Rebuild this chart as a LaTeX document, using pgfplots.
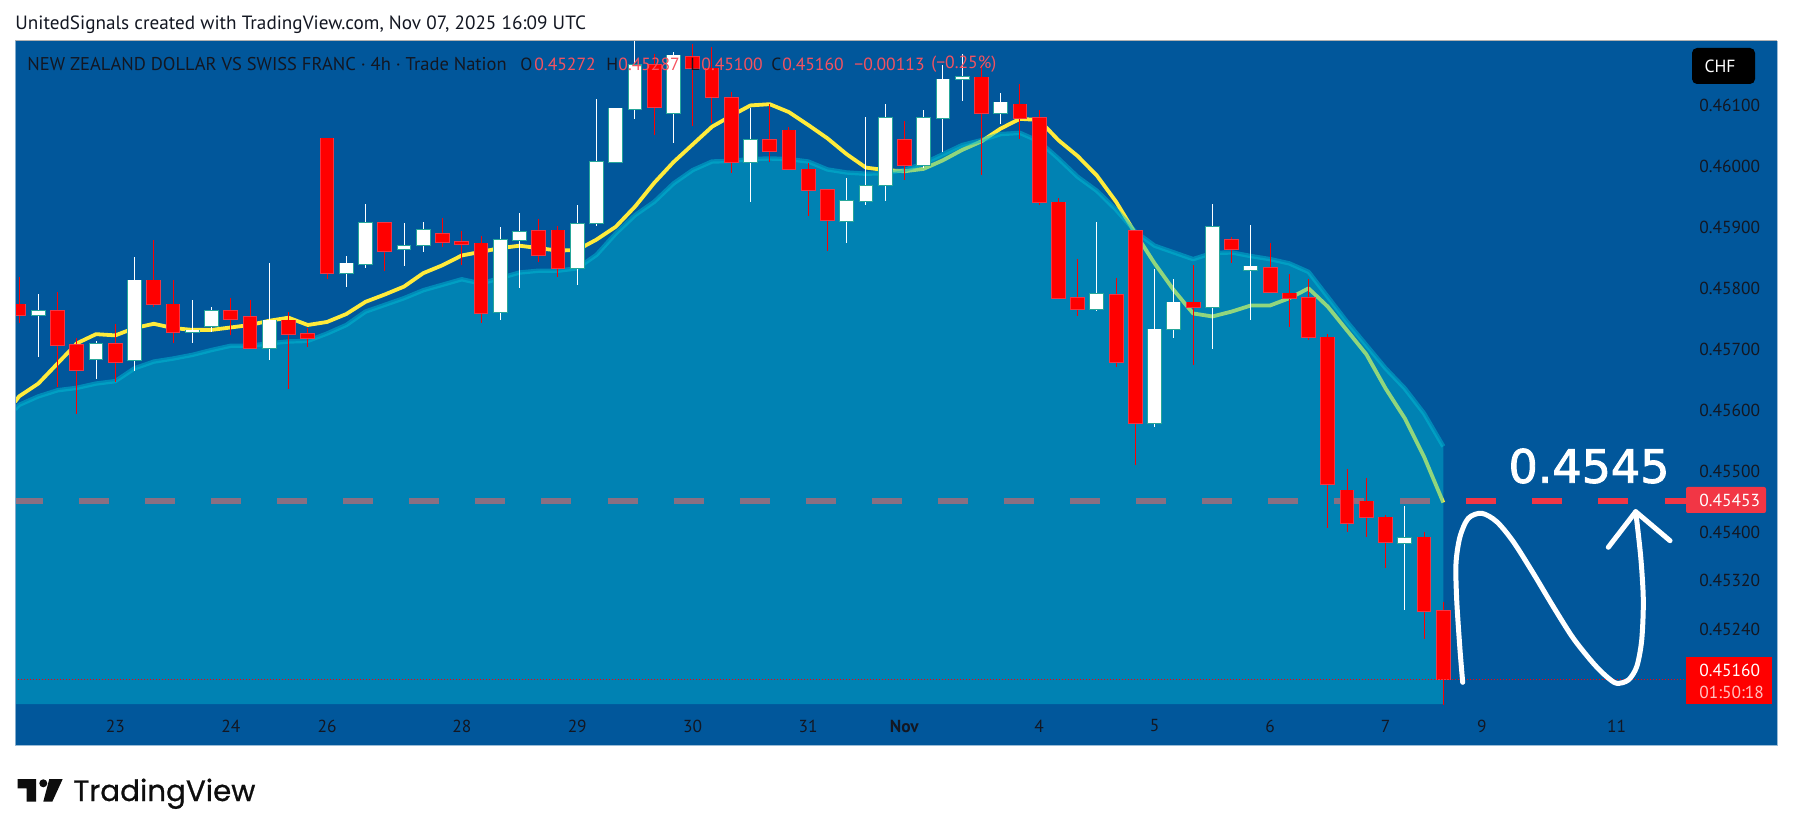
\documentclass[border=0pt]{standalone}
\usepackage{pgfplots}
\pgfplotsset{compat=1.18}
\usepackage{pgfplotstable}
\usepackage{fontspec}
\setmainfont{PT Sans}
\newfontfamily\tvfont{Poppins}[FakeBold=0.7]
\newfontfamily\bigfont{DejaVu Sans}[FakeBold=2]
\definecolor{bgb}{HTML}{01579B}
\definecolor{cloud}{HTML}{00BCD4}
\definecolor{maY}{HTML}{FFEB3B}
\definecolor{tvred}{HTML}{F23645}
\definecolor{ink}{HTML}{131722}
\definecolor{upedge}{HTML}{26A69A}
\definecolor{legred}{HTML}{F7525F}
\pgfplotstableread{
x hi lo top bot
1 0.45792 0.45689 0.45764 0.45758
4 0.45715 0.45652 0.45710 0.45686
6 0.45852 0.45666 0.45814 0.45683
9 0.45782 0.45712 0.45732 0.45730
10 0.45770 0.45730 0.45764 0.45739
13 0.45842 0.45683 0.45749 0.45703
17 0.45854 0.45804 0.45842 0.45826
18 0.45940 0.45835 0.45909 0.45841
20 0.45909 0.45838 0.45871 0.45866
21 0.45910 0.45860 0.45897 0.45872
25 0.45901 0.45750 0.45881 0.45762
26 0.45924 0.45801 0.45894 0.45881
29 0.45937 0.45807 0.45907 0.45834
30 0.46111 0.45903 0.46009 0.45909
31 0.46096 0.46009 0.46096 0.46009
32 0.46206 0.46079 0.46168 0.46095
34 0.46188 0.46040 0.46183 0.46088
38 0.46096 0.45942 0.46045 0.46009
43 0.45982 0.45876 0.45945 0.45911
44 0.46082 0.45937 0.45969 0.45944
45 0.46103 0.45945 0.46081 0.45970
47 0.46093 0.45999 0.46081 0.46004
48 0.46167 0.46025 0.46144 0.46081
49 0.46186 0.46109 0.46148 0.46144
51 0.46121 0.46070 0.46106 0.46088
56 0.45910 0.45764 0.45792 0.45768
59 0.45833 0.45574 0.45734 0.45580
60 0.45816 0.45720 0.45778 0.45734
62 0.45940 0.45701 0.45902 0.45770
64 0.45905 0.45749 0.45837 0.45831
72 0.45444 0.45273 0.45392 0.45384
}\upcandles
\pgfplotstableread{
x hi lo top bot
0 0.45819 0.45744 0.45775 0.45758
2 0.45795 0.45639 0.45764 0.45709
3 0.45720 0.45595 0.45709 0.45668
5 0.45743 0.45648 0.45710 0.45681
7 0.45880 0.45770 0.45814 0.45775
8 0.45815 0.45712 0.45775 0.45729
11 0.45786 0.45724 0.45764 0.45751
12 0.45782 0.45702 0.45754 0.45704
14 0.45763 0.45636 0.45749 0.45727
15 0.45736 0.45705 0.45727 0.45719
16 0.46047 0.45817 0.46047 0.45826
19 0.45909 0.45830 0.45909 0.45863
22 0.45917 0.45869 0.45891 0.45877
23 0.45895 0.45839 0.45877 0.45873
24 0.45887 0.45744 0.45875 0.45760
27 0.45914 0.45845 0.45895 0.45855
28 0.45904 0.45820 0.45896 0.45834
33 0.46186 0.46052 0.46168 0.46099
35 0.46202 0.46067 0.46181 0.46163
36 0.46196 0.46072 0.46162 0.46114
37 0.46123 0.45990 0.46113 0.46009
39 0.46103 0.46009 0.46045 0.46026
40 0.46066 0.45997 0.46060 0.45997
41 0.46006 0.45920 0.45996 0.45963
42 0.45963 0.45863 0.45963 0.45913
46 0.46075 0.45979 0.46045 0.46003
50 0.46167 0.45987 0.46147 0.46088
52 0.46136 0.46046 0.46103 0.46081
53 0.46093 0.45937 0.46081 0.45942
54 0.45950 0.45784 0.45942 0.45786
55 0.45849 0.45755 0.45786 0.45768
57 0.45818 0.45672 0.45791 0.45680
58 0.45895 0.45512 0.45895 0.45580
61 0.45839 0.45675 0.45778 0.45770
63 0.45885 0.45843 0.45881 0.45865
65 0.45875 0.45795 0.45835 0.45795
66 0.45825 0.45738 0.45793 0.45786
67 0.45816 0.45717 0.45786 0.45722
68 0.45726 0.45409 0.45721 0.45480
69 0.45505 0.45401 0.45470 0.45416
70 0.45491 0.45394 0.45452 0.45426
71 0.45430 0.45342 0.45426 0.45385
73 0.45402 0.45226 0.45393 0.45272
74 0.45287 0.45100 0.45272 0.45160
}\downcandles
\pgfplotstableread{
x ma cl
-0.213 0.45615 0.45603
0 0.45624 0.45610
1 0.45645 0.45624
2 0.45678 0.45634
3 0.45711 0.45638
4 0.45726 0.45645
5 0.45724 0.45649
6 0.45736 0.45670
7 0.45743 0.45681
8 0.45736 0.45686
9 0.45733 0.45692
10 0.45733 0.45700
11 0.45737 0.45707
12 0.45741 0.45707
13 0.45748 0.45711
14 0.45753 0.45714
15 0.45741 0.45715
16 0.45746 0.45727
17 0.45759 0.45741
18 0.45779 0.45763
19 0.45791 0.45774
20 0.45804 0.45785
21 0.45826 0.45798
22 0.45839 0.45807
23 0.45855 0.45816
24 0.45861 0.45809
25 0.45867 0.45818
26 0.45871 0.45827
27 0.45867 0.45830
28 0.45863 0.45830
29 0.45864 0.45834
30 0.45881 0.45856
31 0.45902 0.45891
32 0.45935 0.45921
33 0.45974 0.45943
34 0.46008 0.45973
35 0.46037 0.45995
36 0.46066 0.46009
37 0.46084 0.46010
38 0.46101 0.46013
39 0.46103 0.46014
40 0.46090 0.46013
41 0.46069 0.46009
42 0.46047 0.45996
43 0.46021 0.45991
44 0.45999 0.45989
45 0.45995 0.45990
46 0.45993 0.45995
47 0.45997 0.46006
48 0.46011 0.46021
49 0.46028 0.46036
50 0.46042 0.46044
51 0.46063 0.46054
52 0.46079 0.46056
53 0.46077 0.46042
54 0.46044 0.46014
55 0.46018 0.45984
56 0.45986 0.45961
57 0.45943 0.45930
58 0.45891 0.45894
59 0.45842 0.45871
60 0.45798 0.45860
61 0.45760 0.45849
62 0.45755 0.45859
63 0.45763 0.45860
64 0.45773 0.45854
65 0.45773 0.45849
66 0.45785 0.45842
67 0.45801 0.45828
68 0.45771 0.45787
69 0.45732 0.45746
70 0.45693 0.45708
71 0.45637 0.45670
72 0.45588 0.45637
73 0.45525 0.45596
74 0.45450 0.45542
}\lines
\begin{document}
\begin{tikzpicture}
\fill[white] (0,0) rectangle (896.5pt,418pt);
\fill[bgb] (7.5pt,45.5pt) rectangle (888.5pt,397.5pt);
\begin{axis}[at={(7.5pt,66pt)},anchor=south west,width=835.5pt,height=331.5pt,scale only axis,
 xmin=-0.213,xmax=86.61,ymin=0.451197,ymax=0.462066,
 axis line style={draw=none},tick style={draw=none},major tick length=0pt,
 xtick={5,11,16,23,29,35,41,46,53,59,65,71,76,83},
 xticklabels={23,24,26,28,29,30,31,\textbf{Nov},4,5,6,7,9,11},
 ytick={0.461,0.460,0.459,0.458,0.457,0.456,0.455,0.454,0.4532,0.4524},
 yticklabels={0.46100,0.46000,0.45900,0.45800,0.45700,0.45600,0.45500,0.45400,0.45320,0.45240},
 yticklabel pos=right,
 yticklabel style={anchor=west,xshift=6.5pt,yshift=0.5pt,font=\fontsize{8.7}{9}\selectfont,text=ink,inner sep=0pt},
 xticklabel style={anchor=center,yshift=-11pt,font=\fontsize{8.7}{9}\selectfont,text=ink,inner sep=0pt},
 scaled y ticks=false,
 wick/.style={draw=none,no markers,forget plot,error bars/.cd,y dir=both,y explicit,error mark=none,error bar style={draw=#1,line width=0.5pt}},
 body/.style 2 args={draw=none,no markers,forget plot,error bars/.cd,y dir=both,y explicit,error mark=none,error bar style={draw=#1,line width=#2}},
]
% things beneath the translucent cloud
\addplot[tvred,line width=2.85pt,dash pattern=on 15pt off 18.03pt,dash phase=1pt,forget plot] coordinates {(-0.213,0.45453)(86.61,0.45453)};
\addplot[maY,line width=1.9pt,line join=round,forget plot] table[x=x,y=ma]{\lines};
% cloud
\addplot[draw=none,fill=cloud,fill opacity=0.43,forget plot] table[x=x,y=cl]{\lines} \closedcycle;
\addplot[cloud,opacity=0.5,line width=2.2pt,line join=round,forget plot] table[x=x,y=cl]{\lines};
% candle wicks
\addplot[wick=white] table[x=x,y=top,y error plus expr=\thisrow{hi}-\thisrow{top},y error minus expr=\thisrow{top}-\thisrow{lo}]{\upcandles};
\addplot[wick=red] table[x=x,y=top,y error plus expr=\thisrow{hi}-\thisrow{top},y error minus expr=\thisrow{top}-\thisrow{lo}]{\downcandles};
% candle bodies: edge then fill
\addplot[body={upedge}{7.4pt}] table[x=x,y=bot,y error plus expr=\thisrow{top}-\thisrow{bot}+0.00001,y error minus expr=0.00001]{\upcandles};
\addplot[body={white}{6.4pt}] table[x=x,y=bot,y error plus expr=\thisrow{top}-\thisrow{bot},y error minus expr=0]{\upcandles};
\addplot[body={tvred}{7.4pt}] table[x=x,y=bot,y error plus expr=\thisrow{top}-\thisrow{bot}+0.00001,y error minus expr=0.00001]{\downcandles};
\addplot[body={red}{6.4pt}] table[x=x,y=bot,y error plus expr=\thisrow{top}-\thisrow{bot},y error minus expr=0]{\downcandles};
% last-price line
\addplot[red,line width=0.5pt,dash pattern=on 0.5pt off 1pt,forget plot] coordinates {(-0.213,0.4516)(86.61,0.4516)};
\end{axis}
\begin{scope}[x=0.5pt,y=-0.5pt,shift={(0pt,418pt)}]
\draw[white,line width=2.5pt,line cap=round,line join=round] plot[smooth,tension=0.5] coordinates {(1462.7,682.3)(1460,650)(1456.7,600)(1456,563.3)(1460,536.7)(1468.3,518.3)(1481.7,513.3)(1496.7,521.7)(1513.3,541.7)(1533.3,573.3)(1553.3,606.7)(1573.3,638.3)(1593.3,663.3)(1606.7,676.7)(1616.7,683.3)(1628.3,680)(1636.7,666.7)(1641.7,640)(1643.3,600)(1640.7,556.7)(1635.7,511.7)};
\draw[white,line width=2.5pt,line cap=round,line join=round] (1608.3,547.3)--(1635.7,511.7)--(1670,540.7);
\node[white,anchor=center,inner sep=0pt,font=\bigfont\fontsize{23}{24}\selectfont] at (1589,466) {0.4545};
% title bar
\node[anchor=west,inner sep=0pt,text=ink,font=\fontsize{9.6}{10}\selectfont] at (15,25) {UnitedSignals created with TradingView.com, Nov 07, 2025 16:09 UTC};
\node[anchor=west,inner sep=0pt,text=ink,font=\fontsize{9.25}{10}\selectfont] at (27,64) {NEW ZEALAND DOLLAR VS SWISS FRANC · 4h · Trade Nation};
\tikzset{hdr/.style={anchor=west,inner sep=0pt,font=\fontsize{8.8}{10}\selectfont}}
\node[hdr,text=ink] at (520,64) {O};
\node[hdr,text=legred] at (534,64) {0.45272};
\node[hdr,text=ink] at (606,64) {H};
\node[hdr,text=legred] at (618,64) {0.45287};
\node[hdr,text=ink] at (690,64) {L};
\node[hdr,text=legred] at (701,64) {0.45100};
\node[hdr,text=ink] at (771,64) {C};
\node[hdr,text=legred] at (782,64) {0.45160};
\node[hdr,text=legred] at (854,64) {−0.00113};
\node[hdr,text=legred] at (931,64) {(−0.25\%)};
% currency and price labels
\fill[black,rounded corners=2.5pt] (1692,48) rectangle (1755,84);
\node[white,inner sep=0pt,font=\fontsize{8.8}{10}\selectfont] at (1720,66) {CHF};
\fill[tvred,rounded corners=1pt] (1686,487) rectangle (1766,513);
\node[white,anchor=west,inner sep=0pt,font=\fontsize{8.7}{9}\selectfont] at (1699,500) {0.45453};
\fill[red] (1686,657) rectangle (1772,704);
\node[white,anchor=west,inner sep=0pt,font=\fontsize{8.7}{9}\selectfont] at (1699,670) {0.45160};
\node[white,opacity=0.75,anchor=west,inner sep=0pt,font=\fontsize{8.7}{9}\selectfont] at (1699,692) {01:50:18};
% TradingView logo
\fill[black!95] (17.7,779)--(36,779)--(36,801.7)--(26.7,801.7)--(26.7,788.3)--(17.7,788.3)--cycle;
\fill[black!95] (43.3,783.3) circle[radius=4];
\fill[black!95] (49.3,779)--(62.7,779)--(52.3,801.7)--(43.3,801.7)--cycle;
\node[anchor=base west,inner sep=0pt,text=black!95,font=\tvfont\fontsize{14.7}{16}\selectfont] at (73,801) {TradingView};
\draw[white!60!bgb,line width=0.5pt] (15,745)--(1777,745)--(1777,41);
\draw[white!50!bgb,line width=0.5pt] (15,745)--(15,41);
\draw[black!30,line width=0.5pt] (15,41)--(1777,41);
\end{scope}
\end{tikzpicture}
\end{document}
